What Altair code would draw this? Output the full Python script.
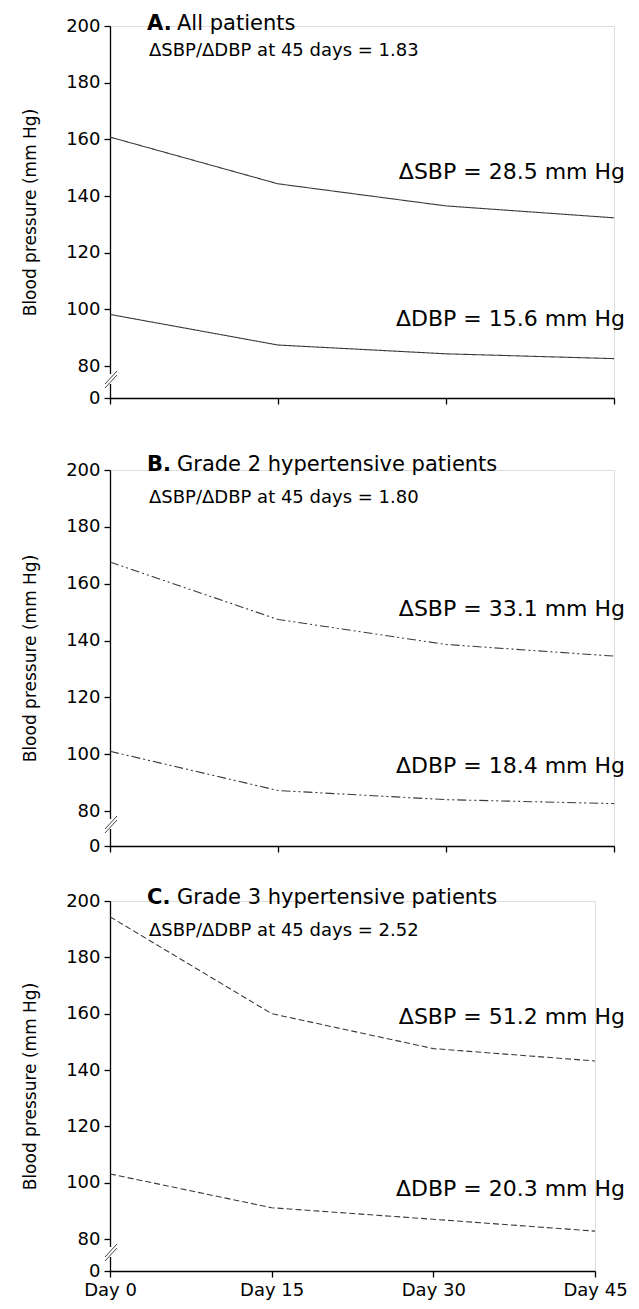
import altair as alt
import pandas as pd

days = [0, 15, 30, 45]
y_ticks = [0, 80, 100, 120, 140, 160, 180, 200]

sbp_a = [160.8, 144.3, 136.5, 132.3]
dbp_a = [98.2, 87.4, 84.3, 82.6]
sbp_b = [167.6, 147.4, 138.6, 134.5]
dbp_b = [101.0, 87.2, 84.0, 82.6]
sbp_c = [194.4, 160.0, 147.6, 143.2]
dbp_c = [103.1, 91.1, 87.0, 82.8]

panel_letters = ["A.", "B.", "C."]
panel_names = ["All patients", "Grade 2 hypertensive patients", "Grade 3 hypertensive patients"]
ratios = ["1.83", "1.80", "2.52"]
d_sbp = ["28.5", "33.1", "51.2"]
d_dbp = ["15.6", "18.4", "20.3"]

FONT = "DejaVu Sans"
LINE_COLOR = "#3a3a3a"


def panel(i, sbp, dbp, w, h, brk, dash, show_labels, pos):
    df = pd.DataFrame({
        "day": days * 2,
        "value": sbp + dbp,
        "series": ["SBP"] * 4 + ["DBP"] * 4,
    })
    yscale = alt.Scale(domain=[0, 80, 200], range=[h, h - brk, 0], nice=False, zero=False)
    xaxis = alt.Axis(
        values=days, labels=show_labels, labelExpr="'Day ' + datum.value",
        labelFontSize=18, labelFont=FONT, labelColor="black", labelPadding=4,
        tickSize=6, tickColor="black", tickWidth=1.3, domainColor="black", domainWidth=1.3,
        grid=False, title="", labelFlush=False,
    )
    yaxis = alt.Axis(
        values=y_ticks, labelFontSize=18, labelFont=FONT, labelColor="black", labelPadding=4,
        tickSize=6, tickColor="black", tickWidth=1.3, domainColor="black", domainWidth=1.3,
        grid=False, title="Blood pressure (mm Hg)", titleFont=FONT, titleFontSize=17,
        titleFontWeight="normal", titleColor="black", titlePadding=26,
    )
    lines = alt.Chart(df).mark_line(
        color=LINE_COLOR, strokeWidth=1.1, strokeDash=dash
    ).encode(
        x=alt.X("day:Q", scale=alt.Scale(domain=[0, 45], nice=False, zero=False), axis=xaxis),
        y=alt.Y("value:Q", scale=yscale, axis=yaxis),
        detail="series:N",
    )
    one = pd.DataFrame({"k": [0]})
    # axis break
    gap = alt.Chart(one).mark_rule(color="white", strokeWidth=4).encode(
        x=alt.value(0), x2=alt.value(0), y=alt.value(h - brk + 8), y2=alt.value(h - brk + 18))
    s1 = alt.Chart(one).mark_rule(color="#444", strokeWidth=1).encode(
        x=alt.value(-5), x2=alt.value(7), y=alt.value(h - brk + 18), y2=alt.value(h - brk + 5))
    s2 = alt.Chart(one).mark_rule(color="#444", strokeWidth=1).encode(
        x=alt.value(-5), x2=alt.value(7), y=alt.value(h - brk + 22), y2=alt.value(h - brk + 9))

    def txt(text, x, y, size, weight="normal", align="left"):
        return alt.Chart(pd.DataFrame({"t": [text]})).mark_text(
            font=FONT, fontSize=size, fontWeight=weight, align=align,
            baseline="alphabetic", color="black"
        ).encode(text="t:N", x=alt.value(x), y=alt.value(y))

    t1 = txt(panel_letters[i], 37, pos["title"], 21, "bold")
    t2 = txt(panel_names[i], 67, pos["title"], 21)
    t3 = txt("\u0394SBP/\u0394DBP at 45 days = " + ratios[i], 39, pos["sub"], 18)
    t4 = txt("\u0394SBP = " + d_sbp[i] + " mm Hg", w + pos["rx"], pos["sbp"], 22, align="right")
    t5 = txt("\u0394DBP = " + d_dbp[i] + " mm Hg", w + pos["rx"], pos["dbp"], 22, align="right")

    return alt.layer(lines, gap, s1, s2, t1, t2, t3, t4, t5).properties(width=w, height=h)


pa = panel(0, sbp_a, dbp_a, 504, 372, 32, [1, 0], False,
           {"title": 4, "sub": 30, "sbp": 153, "dbp": 300, "rx": 11})
pb = panel(1, sbp_b, dbp_b, 504, 376, 35, [9, 3, 2, 3, 2, 3], False,
           {"title": 1, "sub": 33, "sbp": 146, "dbp": 303, "rx": 11})
pc = panel(2, sbp_c, dbp_c, 485, 370, 32, [6, 3], True,
           {"title": 3, "sub": 35, "sbp": 123, "dbp": 295, "rx": 30})

inner = alt.vconcat(pb, pc, spacing=55, bounds="flush")
chart = alt.vconcat(pa, inner, spacing=72, bounds="flush").properties(
    padding={"left": 13, "top": 4, "right": 0, "bottom": 0}
).configure_view(stroke=None).configure(font=FONT)

chart.save("out.html", embed_options={"renderer": "svg", "actions": False})
